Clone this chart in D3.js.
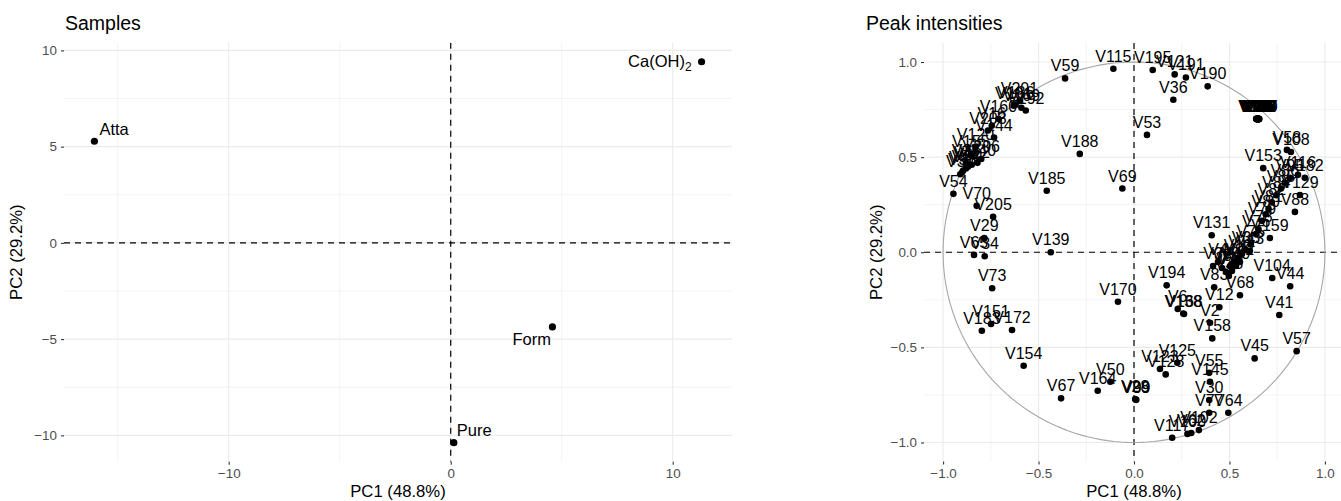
<!DOCTYPE html>
<html>
<head>
<meta charset="utf-8">
<script src="https://cdn.jsdelivr.net/npm/d3@7"></script>
<style>
  body { margin: 0; background: #fff; }
  svg { display: block; font-family: "Liberation Sans", Arial, sans-serif; }
</style>
</head>
<body>
<svg id="chart" width="1341" height="501"></svg>
<script>
// ---- Sample scores (PC1 / PC2) ----
const sampleNames = ["Atta", "Ca(OH)2", "Form", "Pure"];
const samplePC1 = [-16.05, 11.3, 4.58, 0.14];
const samplePC2 = [5.28, 9.41, -4.37, -10.38];

// ---- Variable loadings (PC1 / PC2) ----
const varNames = [
  "V59","V115","V195","V121","V191","V190","V36","V53","V188","V185",
  "V69","V54","V70","V205","V29","V65","V34","V139","V73","V151",
  "V183","V172","V154","V67","V164","V50","V28","V39","V99","V170",
  "V194","V6","V138","V168","V125","V123","V128","V55","V145","V30",
  "V77","V64","V45","V57","V117","V100","V62","V102","V83","V12",
  "V2","V158","V68","V104","V44","V41","V131","V153","V58","V108",
  "V95","V116","V182","V129","V88","V159",
  "V13","V14","V15","V18","V19","V20","V21","V22","V23","V24","V113","V119","V132","V147",
  "V26","V27","V32","V118","V124","V126","V127","V130","V133","V135",
  "V101","V201","V169","V192","V16","V203","V144","V155","V206","V25",
  "V31","V38","V47","V74","V90","V112","V140","V120","V160","V186",
  "V75","V76","V78","V79","V80","V81","V82","V84","V85","V86",
  "V3","V4","V5","V7","V8","V9","V10","V11","V33","V35","V37","V40","V42","V43"
];
const varPC1 = [
  -0.361,-0.108,0.098,0.213,0.272,0.386,0.206,0.068,-0.284,-0.457,
  -0.061,-0.946,-0.824,-0.738,-0.784,-0.838,-0.782,-0.436,-0.743,-0.749,
  -0.797,-0.639,-0.578,-0.382,-0.190,-0.124,0.006,0.009,0.012,-0.084,
  0.171,0.229,0.258,0.262,0.227,0.136,0.166,0.394,0.398,0.394,
  0.394,0.494,0.632,0.852,0.200,0.280,0.300,0.340,0.420,0.447,
  0.398,0.410,0.555,0.724,0.818,0.761,0.407,0.677,0.801,0.822,
  0.817,0.859,0.895,0.869,0.843,0.712,
  0.640,0.642,0.645,0.647,0.648,0.649,0.650,0.652,0.654,0.656,0.646,0.651,0.644,0.653,
  0.641,0.643,0.646,0.648,0.650,0.651,0.653,0.655,0.647,0.649,
  -0.630,-0.600,-0.590,-0.567,-0.745,-0.765,-0.733,-0.855,-0.800,-0.880,
  -0.910,-0.900,-0.895,-0.880,-0.870,-0.850,-0.820,-0.830,-0.710,-0.620,
  0.612,0.640,0.652,0.670,0.690,0.705,0.722,0.745,0.770,0.790,
  0.414,0.440,0.461,0.482,0.503,0.524,0.545,0.565,0.586,0.497,0.513,0.534,0.555,0.607
];
const varPC2 = [
  0.914,0.965,0.958,0.935,0.919,0.872,0.802,0.617,0.517,0.323,
  0.335,0.307,0.244,0.187,0.074,-0.014,-0.021,0.000,-0.189,-0.377,
  -0.413,-0.409,-0.597,-0.768,-0.728,-0.681,-0.772,-0.775,-0.776,-0.260,
  -0.174,-0.298,-0.322,-0.325,-0.581,-0.614,-0.642,-0.634,-0.681,-0.777,
  -0.844,-0.844,-0.558,-0.520,-0.975,-0.955,-0.950,-0.935,-0.184,-0.289,
  -0.371,-0.453,-0.226,-0.135,-0.179,-0.330,0.089,0.442,0.538,0.527,
  0.391,0.407,0.391,0.301,0.212,0.075,
  0.702,0.700,0.701,0.699,0.700,0.702,0.700,0.699,0.701,0.700,0.700,0.701,0.699,0.700,
  0.701,0.700,0.702,0.699,0.701,0.700,0.699,0.701,0.700,0.702,
  0.770,0.795,0.760,0.745,0.665,0.640,0.603,0.515,0.490,0.470,
  0.410,0.420,0.430,0.440,0.450,0.460,0.470,0.555,0.700,0.775,
  0.045,0.095,0.120,0.165,0.200,0.228,0.262,0.300,0.335,0.365,
  -0.072,-0.051,-0.083,-0.104,-0.072,-0.051,-0.030,-0.009,0.012,-0.125,-0.098,-0.072,-0.051,0.007
];

// ---- Axis ticks ----
const sampleXTicks = [-10, 0, 10];
const sampleXMinor = [-15, -5, 5];
const sampleYTicks = [-10, -5, 0, 5, 10];
const sampleYMinor = [-7.5, -2.5, 2.5, 7.5];
const varTicks = [-1, -0.5, 0, 0.5, 1];
const varMinor = [-0.75, -0.25, 0.25, 0.75];

const titles = ["Samples", "Peak intensities"];
const xTitle = "PC1 (48.8%)";
const yTitle = "PC2 (29.2%)";

// ---- Drawing ----
const svg = d3.select("#chart");
const minus = s => s.replace("-", "\u2212");
const GRID = "#ebebeb";

function drawPanel(cfg) {
  const { x, y, xMajor, xMinor, yMajor, yMinor, fmt, clipId } = cfg;
  const [x0, x1] = x.range();
  const [y0, y1] = y.range(); // bottom, top
  const g = svg.append("g");

  // grid: minor then major
  const grid = g.append("g");
  grid.selectAll(".vmin").data(xMinor).join("line")
    .attr("x1", d => x(d)).attr("x2", d => x(d)).attr("y1", y1).attr("y2", y0)
    .attr("stroke", GRID).attr("stroke-width", 0.6);
  grid.selectAll(".hmin").data(yMinor).join("line")
    .attr("y1", d => y(d)).attr("y2", d => y(d)).attr("x1", x0).attr("x2", x1)
    .attr("stroke", GRID).attr("stroke-width", 0.6);
  grid.selectAll(".vmaj").data(xMajor).join("line")
    .attr("x1", d => x(d)).attr("x2", d => x(d)).attr("y1", y1).attr("y2", y0)
    .attr("stroke", GRID).attr("stroke-width", 1.1);
  grid.selectAll(".hmaj").data(yMajor).join("line")
    .attr("y1", d => y(d)).attr("y2", d => y(d)).attr("x1", x0).attr("x2", x1)
    .attr("stroke", GRID).attr("stroke-width", 1.1);

  // axes
  const ax = g.append("g").attr("transform", `translate(0,${y0})`)
    .call(d3.axisBottom(x).tickValues(xMajor).tickFormat(d => minus(fmt(d))).tickSizeInner(3).tickSizeOuter(0).tickPadding(3.5));
  const ay = g.append("g").attr("transform", `translate(${x0},0)`)
    .call(d3.axisLeft(y).tickValues(yMajor).tickFormat(d => minus(fmt(d))).tickSizeInner(3).tickSizeOuter(0).tickPadding(4));
  [ax, ay].forEach(a => {
    a.select(".domain").remove();
    a.selectAll(".tick line").attr("stroke", "#333").attr("stroke-width", 1.1);
    a.selectAll(".tick text").attr("fill", "#4d4d4d").style("font-size", "13.4px")
      .style("font-family", "'Liberation Sans', Arial, sans-serif");
  });

  // clip region for marks
  svg.append("clipPath").attr("id", clipId).append("rect")
    .attr("x", x0).attr("y", y1).attr("width", x1 - x0).attr("height", y0 - y1);
  const marks = g.append("g").attr("clip-path", `url(#${clipId})`);

  // zero reference lines
  marks.append("line").attr("x1", x0).attr("x2", x1).attr("y1", y(0)).attr("y2", y(0))
    .attr("stroke", "#000").attr("stroke-width", 1.2).attr("stroke-dasharray", "6,5");
  marks.append("line").attr("x1", x(0)).attr("x2", x(0)).attr("y1", y1).attr("y2", y0)
    .attr("stroke", "#000").attr("stroke-width", 1.2).attr("stroke-dasharray", "6,5");

  // titles
  const cx = (x0 + x1) / 2, cy = (y0 + y1) / 2;
  svg.append("text").attr("x", cfg.titleX).attr("y", 30).text(cfg.title)
    .style("font-size", "19.5px").attr("fill", "#000");
  svg.append("text").attr("x", cfg.xTitleX ?? cx).attr("y", 497).attr("text-anchor", "middle")
    .text(xTitle).style("font-size", "16.7px");
  svg.append("text").attr("transform", `translate(${x0 - 42},${cy}) rotate(-90)`)
    .attr("text-anchor", "middle").text(yTitle).style("font-size", "16.7px");

  return marks;
}

// ---- Left panel: samples ----
const xS = d3.scaleLinear().domain([-17.42, 12.67]).range([64, 732]);
const yS = d3.scaleLinear().domain([-11.37, 10.4]).range([461.7, 42.7]);
const m1 = drawPanel({
  x: xS, y: yS, xMajor: sampleXTicks, xMinor: sampleXMinor,
  yMajor: sampleYTicks, yMinor: sampleYMinor, fmt: d3.format("d"),
  clipId: "clipS", title: titles[0], titleX: 65
});

const samples = sampleNames.map((n, i) => ({ name: n, x: samplePC1[i], y: samplePC2[i] }));
m1.selectAll("circle").data(samples).join("circle")
  .attr("cx", d => xS(d.x)).attr("cy", d => yS(d.y)).attr("r", 3.6).attr("fill", "#000");

// label placement (dx, baseline dy, anchor) chosen to avoid overlap
const sampleLabelPos = {
  "Atta":    [5, -6.5, "start"],
  "Ca(OH)2": [-10, 5.5, "end"],
  "Form":    [-1.5, 18.5, "end"],
  "Pure":    [3, -7, "start"]
};
samples.forEach(d => {
  const [dx, dy, anchor] = sampleLabelPos[d.name];
  const t = svg.append("text").attr("x", xS(d.x) + dx).attr("y", yS(d.y) + dy)
    .attr("text-anchor", anchor).style("font-size", "16.5px").attr("fill", "#000");
  const m = d.name.match(/^(.*?)(\d)$/);
  if (m && d.name.startsWith("Ca")) {
    t.append("tspan").text(m[1]);
    t.append("tspan").text(m[2]).attr("dy", 4).style("font-size", "12px");
  } else {
    t.text(d.name);
  }
});

// ---- Right panel: variables ----
const xV = d3.scaleLinear().domain([-1.1, 1.1]).range([924, 1344]);
const yV = d3.scaleLinear().domain([-1.1, 1.1]).range([461.5, 43]);
const fmtV = d3.format(".1f");
const m2 = drawPanel({
  x: xV, y: yV, xMajor: varTicks, xMinor: varMinor,
  yMajor: varTicks, yMinor: varMinor, fmt: fmtV,
  clipId: "clipV", title: titles[1], titleX: 866, xTitleX: 1134
});

// correlation circle
const angles = d3.range(0, 361, 2).map(a => a * Math.PI / 180);
m2.append("path")
  .attr("d", d3.line().x(a => xV(Math.cos(a))).y(a => yV(Math.sin(a)))(angles))
  .attr("fill", "none").attr("stroke", "#a6a6a6").attr("stroke-width", 1.1);

const vars = varNames.map((n, i) => ({ name: n, x: varPC1[i], y: varPC2[i] }));
m2.selectAll("circle.v").data(vars).join("circle").attr("class", "v")
  .attr("cx", d => xV(d.x)).attr("cy", d => yV(d.y)).attr("r", 3.3).attr("fill", "#000");
m2.selectAll("text.v").data(vars).join("text").attr("class", "v")
  .attr("x", d => xV(d.x)).attr("y", d => yV(d.y) - 7)
  .attr("text-anchor", "middle").style("font-size", "16px").attr("fill", "#000")
  .text(d => d.name);
</script>
</body>
</html>
